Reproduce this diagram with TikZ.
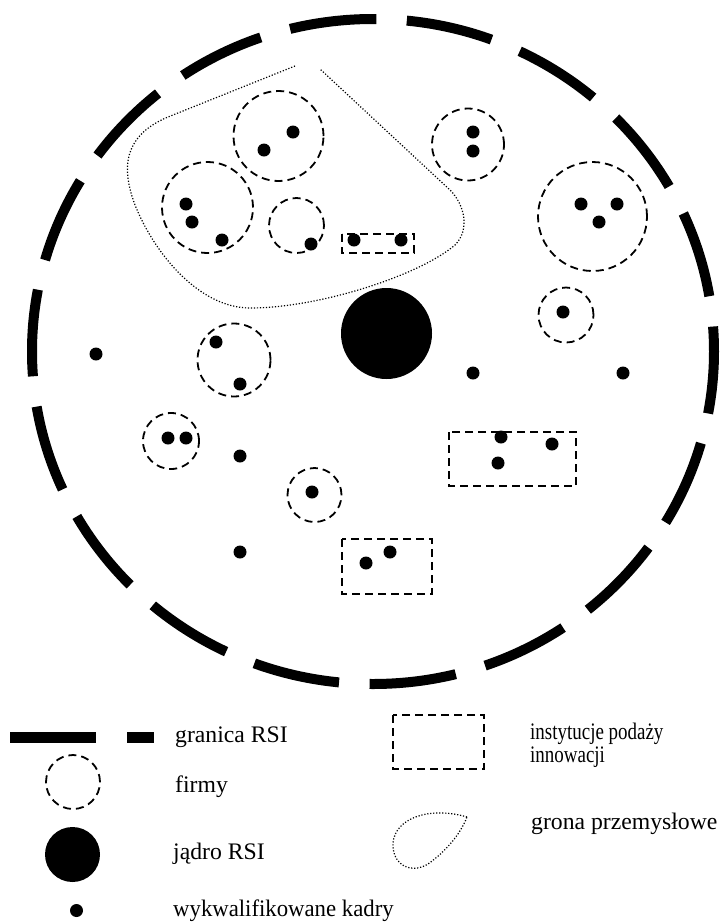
\documentclass[tikz,border=0pt]{standalone}
\usepackage{graphicx}
\usepackage{fontspec}
\setmainfont{Liberation Serif}
\tikzset{
  boundary/.style={line width=10pt, dash pattern=on 87pt off 30.55pt, dash phase=62pt},
  firm/.style={line width=1.8pt, dash pattern=on 8pt off 5pt},
  inst/.style={line width=1.8pt, dash pattern=on 8pt off 5pt},
  cluster/.style={line width=1.2pt, dash pattern=on 1.2pt off 1.8pt},
  staff/.style={fill=black},
  core/.style={fill=black},
  lbl/.style={anchor=base west, inner sep=0pt, font=\fontsize{23.7pt}{23pt}\selectfont},
}
\begin{document}
\begin{tikzpicture}[x=1pt,y=-1pt]
\useasboundingbox (0,0) rectangle (720,922);

% boundary of RSI
\draw[boundary] (373,351.5) ellipse[x radius=341pt, y radius=332.5pt];

% industrial cluster
\draw[cluster] (295,66) -- (168,117)
  .. controls (130,133) and (118,160) .. (135,205)
  .. controls (155,255) and (200,308) .. (250,308)
  .. controls (320,308) and (420,275) .. (455,245)
  .. controls (470,230) and (465,205) .. (450,190)
  -- (320,69);

% firms
\draw[firm] (278.5,136) circle[radius=45pt];
\draw[firm] (207.5,207.5) circle[radius=45.5pt];
\draw[firm] (296.5,225.5) circle[radius=27.5pt];
\draw[firm] (468,144.5) circle[radius=36pt];
\draw[firm] (592.5,216.5) circle[radius=54.5pt];
\draw[firm] (566,315) circle[radius=27.5pt];
\draw[firm] (234,360) circle[radius=36.5pt];
\draw[firm] (171,441) circle[radius=28pt];
\draw[firm] (314.5,495) circle[radius=27pt];

% innovation supply institutions
\draw[inst] (342,234) rectangle (414,253);
\draw[inst] (449,432) rectangle (576,486);
\draw[inst] (342,539) rectangle (432,594);

% core
\fill[core] (386.5,333.5) circle[radius=45.5pt];

% qualified staff
\foreach \p in {(293,132),(264,150),(186,204),(192,222),(222,240),(311,244),
  (354,240),(401,240),(473,132),(473,151),(581,204),(617,204),(599,222),
  (563,312),(96,354),(473,373),(623,373),(240,456),(240,552),(216,342),
  (240,384),(168,438),(186,438),(312,492),(501,437),(498,463),(552,444),
  (366,563),(390,552)}
  \fill[staff] \p circle[radius=6.5pt];

% legend
\draw[boundary, dash phase=0pt, dash pattern=on 86pt off 31pt, line width=11pt] (10,737.5) -- (154,737.5);
\node[lbl] (lgran) at (175,742) {granica RSI};
\draw[firm] (73,782) circle[radius=27pt];
\node[lbl] (lfirm) at (175,792) {firmy};
\fill[core] (72.5,854.5) circle[radius=27.5pt];
\node[lbl] (lcore) at (173,859) {jądro RSI};
\fill[staff] (76.5,910.5) circle[radius=6.5pt];
\node[lbl] (lstaff) at (173,916) {\scalebox{0.96}[1]{wykwalifikowane kadry}};
\draw[inst] (393,715) rectangle (484,769);
\node[lbl] (linst1) at (530,739) {\scalebox{0.8}[1]{instytucje podaży}};
\node[lbl] (linst2) at (530,762) {\scalebox{0.8}[1]{innowacji}};
\draw[cluster] (467,817) .. controls (430,806) and (395,818) .. (393,843)
  .. controls (392,866) and (412,874) .. (428,864)
  .. controls (445,852) and (460,835) .. (467,817) -- cycle;
\node[lbl] (lclust) at (531,829) {grona przemysłowe};
\end{tikzpicture}
\end{document}
